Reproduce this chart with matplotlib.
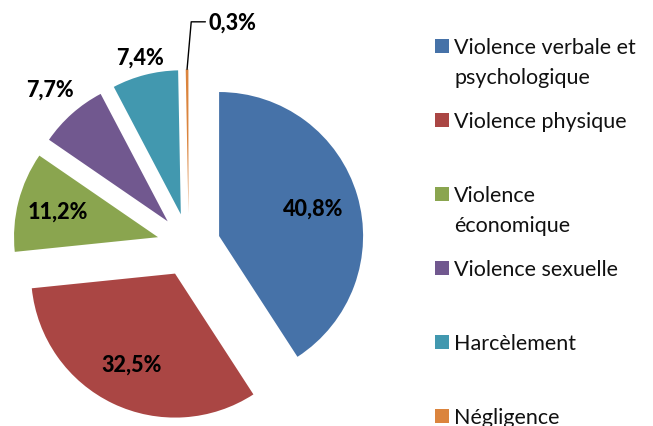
import matplotlib.pyplot as plt
import numpy as np
from matplotlib.patches import Rectangle

labels = ["Violence verbale et\npsychologique", "Violence physique", "Violence\néconomique",
          "Violence sexuelle", "Harcèlement", "Négligence"]
values = [40.8, 32.5, 11.2, 7.7, 7.4, 0.3]
colors = ["#4672A8", "#AA4644", "#8AA54F", "#71588F", "#4298AF", "#DB843D"]

# distance of each percentage label from its wedge apex (in radii)
label_dist = [0.68, 0.70, 0.72, 1.23, 1.13, None]

plt.rcParams['font.family'] = ['Lato', 'DejaVu Sans']

fig = plt.figure(figsize=(6.53, 4.27), dpi=100)
ax = fig.add_axes([-0.0418, -0.082, 0.6616, 1.0117])

wedges, _ = ax.pie(values, colors=colors, explode=[0.22] * len(values), startangle=90,
                   counterclock=False, radius=1, wedgeprops=dict(linewidth=0))
ax.set_xlim(-1.5, 1.5)
ax.set_ylim(-1.5, 1.5)
ax.set_aspect('equal')
ax.axis('off')

for w, v, d in zip(wedges, values, label_dist):
    mid = np.deg2rad((w.theta1 + w.theta2) / 2)
    cx, cy = w.center
    txt = f"{v:.1f}".replace(".", ",") + "%"
    if d is not None:
        ax.text(cx + d * np.cos(mid), cy + d * np.sin(mid), txt, ha='center', va='center',
                fontsize=15.5, fontweight='black', color='black')
    else:
        tip = (cx + w.r * np.cos(mid), cy + w.r * np.sin(mid))
        ax.annotate(txt, xy=tip, xytext=(0.135, 1.55), ha='left', va='center',
                    fontsize=15.5, fontweight='black', color='black',
                    arrowprops=dict(arrowstyle='-', color='black', lw=1,
                                    connectionstyle='angle,angleA=0,angleB=85',
                                    shrinkA=0, shrinkB=0))

# legend drawn by hand: evenly spaced entries, multi-line labels
W, H = 653, 427
mx, ms = 435, 14
tx = 454
y0, step, lh = 47, 74, 29
for i, (lab, c) in enumerate(zip(labels, colors)):
    yc = y0 + i * step
    fig.add_artist(Rectangle((mx / W, 1 - (yc + ms / 2) / H), ms / W, ms / H,
                             transform=fig.transFigure, facecolor=c, edgecolor='none'))
    for j, line in enumerate(lab.split("\n")):
        fig.text(tx / W, 1 - (yc + 7.5 + j * lh) / H, line, ha='left', va='baseline',
                 fontsize=15.5, color='#111111')

fig.savefig("out.png", dpi=100)
